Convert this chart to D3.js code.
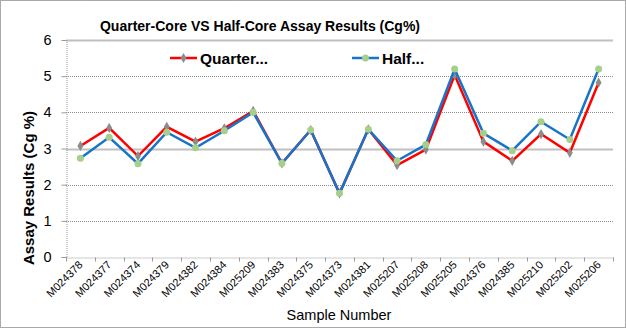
<!DOCTYPE html>
<html><head><meta charset="utf-8">
<script src="https://cdn.jsdelivr.net/npm/d3@7"></script>
<style>body{margin:0;background:#fff;} svg{display:block;}</style>
</head><body>
<svg id="c" width="626" height="328"></svg>
<script>
const categories = ["M024378","M024377","M024374","M024379","M024382","M024384","M025209","M024383","M024375","M024373","M024381","M025207","M025208","M025205","M024376","M024385","M025210","M025202","M025206"];
const quarterValues = [3.07,3.57,2.79,3.60,3.19,3.56,4.04,2.59,3.51,1.76,3.53,2.54,2.97,5.03,3.19,2.66,3.40,2.88,4.82];
const halfValues    = [2.73,3.31,2.58,3.45,3.02,3.49,4.00,2.59,3.51,1.76,3.53,2.66,3.11,5.20,3.42,2.94,3.74,3.25,5.20];
const yTicks = [0,1,2,3,4,5,6];
const seriesNames = ["Quarter...","Half..."];

const svg = d3.select("#c");
const font = "'Liberation Sans', Arial, sans-serif";
const W = 626, H = 328;
const m = {left:66, right:13, top:40, bottom:71};

svg.append("rect").attr("x",0.5).attr("y",0.5).attr("width",W-1).attr("height",H-1)
  .attr("fill","#fff").attr("stroke","#555").attr("stroke-dasharray","1,1");

const x = d3.scaleBand().domain(categories).range([m.left, W-m.right]);
const y = d3.scaleLinear().domain([0,6]).range([H-m.bottom, m.top]);

// gridlines
svg.append("g").selectAll("line").data(yTicks.filter(d=>d>0)).join("line")
  .attr("x1",m.left).attr("x2",W-m.right)
  .attr("y1",d=>Math.round(y(d))+0.5).attr("y2",d=>Math.round(y(d))+0.5)
  .attr("stroke",d=>(d===6||d===3)?"#c0c0c0":"#8a8a8a")
  .attr("stroke-width",d=>(d===6||d===3)?2:1)
  .attr("stroke-dasharray",d=>(d===6||d===3)?null:"1,1");

// y axis
const yAxis = d3.axisLeft(y).tickValues(yTicks).tickSize(5).tickPadding(10).tickFormat(d3.format("d"));
const gy = svg.append("g").attr("transform",`translate(${m.left+0.5},0)`).call(yAxis);
gy.select(".domain").attr("stroke","#999").attr("stroke-dasharray","1,1");
gy.selectAll(".tick line").attr("stroke","#999");
gy.selectAll("text").attr("font-family",font).attr("font-size",14.5).attr("fill","#000");

// x axis
const xAxis = d3.axisBottom(x).tickSize(0).tickFormat("");
const gx = svg.append("g").attr("transform",`translate(0,${Math.round(y(0))+0.5})`).call(xAxis);
gx.select(".domain").attr("stroke","#999").attr("stroke-dasharray","1,1");
gx.selectAll(".tickb").data(categories.concat(["_end"])).join("line")
  .attr("x1",(d,i)=>Math.round(m.left + i*x.bandwidth())+0.5)
  .attr("x2",(d,i)=>Math.round(m.left + i*x.bandwidth())+0.5)
  .attr("y1",0).attr("y2",4).attr("stroke","#999");
gx.selectAll(".lab").data(categories).join("text")
  .attr("transform",d=>`translate(${x(d)+x.bandwidth()/2+3},${8}) rotate(-45)`)
  .attr("text-anchor","end").attr("font-family",font).attr("font-size",11).attr("fill","#000")
  .text(d=>d);

// title
svg.append("text").attr("x",260).attr("y",31).attr("text-anchor","middle")
  .attr("font-family",font).attr("font-weight","bold").attr("font-size",14).text("Quarter-Core VS Half-Core Assay Results (Cg%)");

// axis titles
svg.append("text").attr("transform",`translate(34,188) rotate(-90)`).attr("text-anchor","middle")
  .attr("font-family",font).attr("font-weight","bold").attr("font-size",15).text("Assay Results (Cg %)");
svg.append("text").attr("x",339).attr("y",320).attr("text-anchor","middle")
  .attr("font-family",font).attr("font-size",14.5).text("Sample Number");

// lines
const cx = d => x(d)+x.bandwidth()/2;
const line = d3.line().x(d=>cx(d.c)).y(d=>y(d.v));
const qData = categories.map((c,i)=>({c,v:quarterValues[i]}));
const hData = categories.map((c,i)=>({c,v:halfValues[i]}));

svg.append("path").datum(qData).attr("d",line).attr("fill","none").attr("stroke","#ff0000").attr("stroke-width",2.5);
svg.append("g").selectAll("path").data(qData).join("path")
  .attr("d",d3.symbol(d3.symbolDiamond,30)).attr("transform",d=>`translate(${cx(d.c)},${y(d.v)})`)
  .attr("fill","#8c8c8c");
svg.append("path").datum(hData).attr("d",line).attr("fill","none").attr("stroke","#1874c8").attr("stroke-width",2.5);
svg.append("g").selectAll("circle").data(hData).join("circle")
  .attr("cx",d=>cx(d.c)).attr("cy",d=>y(d.v)).attr("r",3.5).attr("fill","#a6cf8c");

// legend
const leg = [{n:seriesNames[0],col:"#ff0000",mk:"d",x0:170,tx:200},{n:seriesNames[1],col:"#1874c8",mk:"c",x0:352,tx:382}];
const ly = 58;
leg.forEach(l=>{
  svg.append("line").attr("x1",l.x0).attr("x2",l.x0+27).attr("y1",ly).attr("y2",ly).attr("stroke",l.col).attr("stroke-width",2.5);
  if(l.mk==="d") svg.append("path").attr("d",d3.symbol(d3.symbolDiamond,30)).attr("transform",`translate(${l.x0+13.5},${ly})`).attr("fill","#8c8c8c");
  else svg.append("circle").attr("cx",l.x0+13.5).attr("cy",ly).attr("r",3.5).attr("fill","#a6cf8c");
  svg.append("text").attr("x",l.tx).attr("y",ly+6).attr("font-family",font).attr("font-weight","bold").attr("font-size",15.5).text(l.n);
});
</script>
</body></html>
